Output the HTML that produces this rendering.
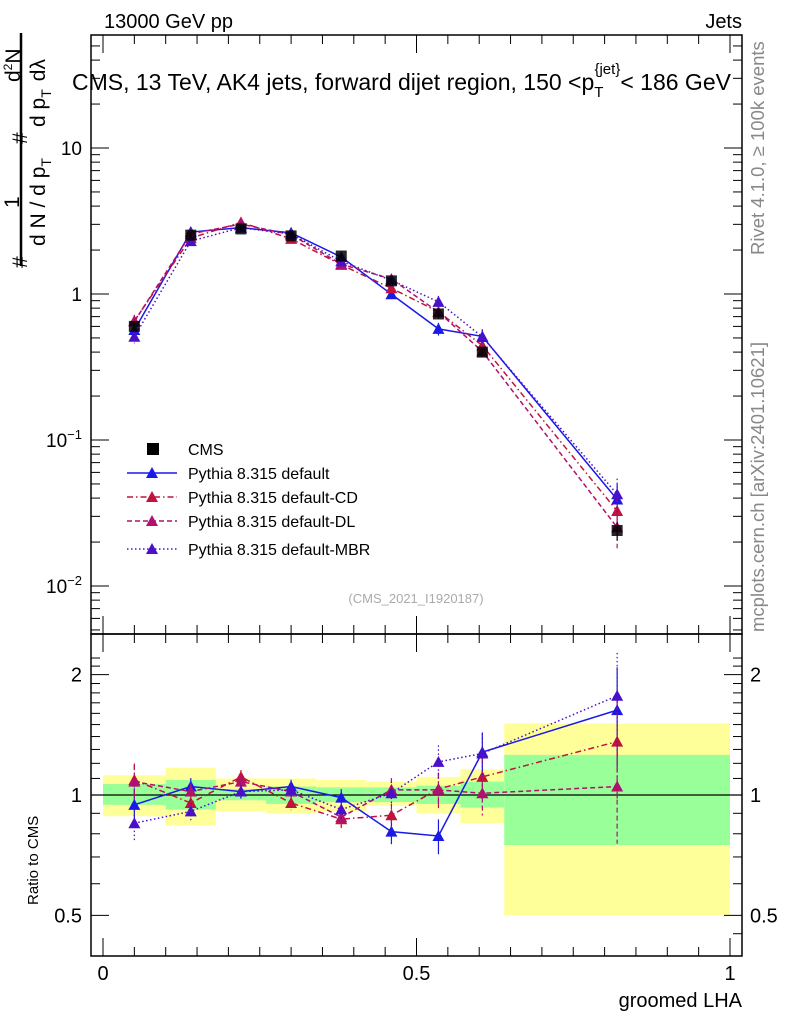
<!DOCTYPE html>
<html><head><meta charset="utf-8"><style>
body{margin:0;background:#fff;}
svg{display:block;font-family:"Liberation Sans",sans-serif;}
</style></head><body>
<svg id="chart" width="786" height="1024" viewBox="0 0 786 1024" xmlns="http://www.w3.org/2000/svg">
<g id="bands"></g>
<g id="marks"></g>
<g id="axes"></g>
<text x="104" y="28" font-size="20">13000 GeV pp</text>
<text x="742" y="28" font-size="20" text-anchor="end">Jets</text>
<text x="72" y="90" font-size="23">CMS, 13 TeV, AK4 jets, forward dijet region, 150 &lt;p<tspan font-size="15" dy="7">T</tspan><tspan font-size="15" dy="-23" dx="-9">{jet}</tspan><tspan dy="16">&lt; 186 GeV</tspan></text>
<text x="416" y="603" font-size="13" fill="#aaa" text-anchor="middle">(CMS_2021_I1920187)</text>
<g transform="translate(764,255) rotate(-90)"><text font-size="18.5" fill="#888">Rivet 4.1.0, ≥ 100k events</text></g>
<g transform="translate(764,632) rotate(-90)"><text font-size="18.5" fill="#888">mcplots.cern.ch [arXiv:2401.10621]</text></g>
<g>
<line x1="21" y1="33" x2="21" y2="266" stroke="#000" stroke-width="2.5"/>
<g transform="translate(27,268) rotate(-90)"><text font-size="21">#</text></g>
<g transform="translate(19,208) rotate(-90)"><text font-size="21">1</text></g>
<g transform="translate(27,144) rotate(-90)"><text font-size="21">#</text></g>
<g transform="translate(20,82) rotate(-90)"><text font-size="21">d<tspan font-size="12" dy="-8">2</tspan><tspan dy="8">N</tspan></text></g>
<g transform="translate(45,246) rotate(-90)"><text font-size="21">d N / d p<tspan font-size="14" dy="6">T</tspan></text></g>
<g transform="translate(45,127) rotate(-90)"><text font-size="21">d p<tspan font-size="14" dy="6">T</tspan><tspan dy="-6" dx="8">dλ</tspan></text></g>
</g>
<g transform="translate(38,905) rotate(-90)"><text font-size="15">Ratio to CMS</text></g>
<text x="742" y="1007" font-size="20" text-anchor="end">groomed LHA</text>
<g id="legend"></g>
</svg>
<script>
const xCenters=[0.05,0.14,0.22,0.30,0.38,0.46,0.535,0.605,0.82];
const binEdges=[0,0.1,0.18,0.26,0.34,0.42,0.5,0.57,0.64,1.0];
const cmsValues=[0.60,2.53,2.79,2.50,1.82,1.23,0.73,0.40,0.024];
const cmsErrRel=[0.06,0.04,0.03,0.03,0.03,0.04,0.05,0.06,0.15];
const ratioDefault=[0.945,1.05,1.02,1.05,0.985,0.81,0.79,1.28,1.63];
const ratioCD=[1.09,0.955,1.11,0.955,0.87,0.89,1.035,1.11,1.36];
const ratioDL=[1.08,1.02,1.08,1.02,0.88,1.03,1.03,1.01,1.05];
const ratioMBR=[0.85,0.91,1.02,1.03,0.92,1.01,1.21,1.27,1.77];
const modelErrRel=[0.1,0.05,0.04,0.04,0.05,0.07,0.1,0.12,0.28];
const yellowLo=[0.885,0.84,0.91,0.90,0.91,0.94,0.90,0.85,0.50];
const yellowHi=[1.12,1.17,1.10,1.10,1.09,1.08,1.11,1.16,1.51];
const greenLo=[0.945,0.92,0.97,0.95,0.96,0.96,0.95,0.93,0.75];
const greenHi=[1.065,1.09,1.035,1.05,1.045,1.045,1.055,1.08,1.26];
const mainTicks=["10","1","10^-1","10^-2"];

const NS="http://www.w3.org/2000/svg";
const L=91,R=742,T=35,MB=634,RB=956;
const X=v=>103+627*v;
const YM=v=>294-146*Math.log10(v);
const YR=v=>795-400*Math.log10(v);
function el(tag,attrs,parent){const e=document.createElementNS(NS,tag);for(const k in attrs)e.setAttribute(k,attrs[k]);parent.appendChild(e);return e;}
const bands=document.getElementById('bands'),marks=document.getElementById('marks'),axes=document.getElementById('axes'),legend=document.getElementById('legend');
for(let i=0;i<xCenters.length;i++){
  const y=el('rect',{x:X(binEdges[i]),y:YR(yellowHi[i]),width:X(binEdges[i+1])-X(binEdges[i]),height:YR(yellowLo[i])-YR(yellowHi[i]),fill:'#ffff99'},bands);
  
  
  const g=el('rect',{x:X(binEdges[i]),y:YR(greenHi[i]),width:X(binEdges[i+1])-X(binEdges[i]),height:YR(greenLo[i])-YR(greenHi[i]),fill:'#99ff99'},bands);
  
  
}
const refLine=el('line',{x1:L,x2:R,y1:YR(1),y2:YR(1),stroke:'#000','stroke-width':1.3},bands);


const series=[
 {name:'Pythia 8.315 default',r:ratioDefault,c:'#1a1ae6',d:'',key:'default'},
 {name:'Pythia 8.315 default-CD',r:ratioCD,c:'#c0143c',d:'6,3,1.5,3',key:'cd'},
 {name:'Pythia 8.315 default-DL',r:ratioDL,c:'#b0106e',d:'5,3',key:'dl'},
 {name:'Pythia 8.315 default-MBR',r:ratioMBR,c:'#4a10c8',d:'1.5,2.5',key:'mbr'}];
function tri(x,y,c,p,nm){const t=el('polygon',{points:`${x-6},${y+5} ${x+6},${y+5} ${x},${y-6}`,fill:c},p);}
series.forEach(s=>{
  const gm=el('g',{},marks);
  
  
  const mainPts=s.r.map((r,i)=>[X(xCenters[i]),YM(cmsValues[i]*r)]);
  const ratPts=s.r.map((r,i)=>[X(xCenters[i]),YR(r)]);
  el('polyline',{points:mainPts.map(p=>p.join(',')).join(' '),fill:'none',stroke:s.c,'stroke-width':1.5,'stroke-dasharray':s.d},gm);
  el('polyline',{points:ratPts.map(p=>p.join(',')).join(' '),fill:'none',stroke:s.c,'stroke-width':1.5,'stroke-dasharray':s.d},gm);
  s.r.forEach((r,i)=>{
    const v=cmsValues[i]*r,e=modelErrRel[i];
    const x=X(xCenters[i]);
    el('line',{x1:x,x2:x,y1:YM(v*(1+e)),y2:YM(v*(1-e)),stroke:s.c,'stroke-width':1.2,'stroke-dasharray':s.d},gm);
    el('line',{x1:x,x2:x,y1:YR(r*(1+e)),y2:YR(r*(1-e)),stroke:s.c,'stroke-width':1.2,'stroke-dasharray':s.d},gm);
    tri(x,YM(v),s.c,gm,'point-'+s.key);
    tri(x,YR(r),s.c,gm,'ratio-point-'+s.key);
  });
});
cmsValues.forEach((v,i)=>{
  const x=X(xCenters[i]);
  el('line',{x1:x,x2:x,y1:YM(v*(1+cmsErrRel[i])),y2:YM(v*(1-cmsErrRel[i])),stroke:'#000'},marks);
  const r=el('rect',{x:x-5.5,y:YM(v)-5.5,width:11,height:11,fill:'#000',opacity:0.85},marks);
  
  
});
el('rect',{x:L,y:T,width:R-L,height:MB-T,fill:'none',stroke:'#000','stroke-width':1.5},axes);
el('rect',{x:L,y:MB,width:R-L,height:RB-MB,fill:'none',stroke:'#000','stroke-width':1.5},axes);
for(let k=0;k<=20;k++){const v=k*0.05,x=X(v),len=(k%10==0)?18:9;
  [T,MB].forEach(y0=>{el('line',{x1:x,x2:x,y1:y0,y2:y0+len,stroke:'#000'},axes);});
  [MB,RB].forEach(y0=>{el('line',{x1:x,x2:x,y1:y0,y2:y0-len,stroke:'#000'},axes);});
}
['0','0.5','1'].forEach((t,i)=>{const tx=el('text',{x:X(i*0.5),y:980,'font-size':20,'text-anchor':'middle'},axes);tx.textContent=t;
  
  });
for(let d=-3;d<=1;d++){for(let m=1;m<10;m++){const v=m*Math.pow(10,d),y=YM(v);if(y<T||y>MB)continue;const len=m==1?18:9;
  el('line',{x1:L,x2:L+len,y1:y,y2:y,stroke:'#000'},axes);el('line',{x1:R,x2:R-len,y1:y,y2:y,stroke:'#000'},axes);}}
const tickVals=[10,1,0.1,0.01];
tickVals.forEach((v,i)=>{const t=el('text',{x:82,y:YM(v)+7,'font-size':19,'text-anchor':'end'},axes);
  const lab=mainTicks[i];
  if(lab.includes('^')){const [b,e]=lab.split('^');t.textContent=b;const ts=el('tspan',{'font-size':13,dy:-8},t);ts.textContent=e.replace('-','−');}
  else t.textContent=lab;
  
  });
for(let v=0.5;v<=2.3;v+=0.1){const y=YR(v);if(y<MB||y>RB)continue;const maj=Math.abs(v-0.5)<1e-6||Math.abs(v-1)<1e-6||Math.abs(v-2)<1e-6;const len=maj?18:9;
  el('line',{x1:L,x2:L+len,y1:y,y2:y,stroke:'#000'},axes);el('line',{x1:R,x2:R-len,y1:y,y2:y,stroke:'#000'},axes);}
el('line',{x1:R,x2:R-9,y1:YR(0.45),y2:YR(0.45),stroke:'#000'},axes);
[[2,'2'],[1,'1'],[0.5,'0.5']].forEach(([v,s])=>{
  const a=el('text',{x:82,y:YR(v)+7,'font-size':20,'text-anchor':'end'},axes);a.textContent=s;
  
  
  const b=el('text',{x:750,y:YR(v)+7,'font-size':20},axes);b.textContent=s;
  
  });
const ly=[449,473,497,521,549];
const le0=el('g',{},legend);


el('rect',{x:147,y:ly[0]-6,width:12,height:12,fill:'#000'},le0);
el('text',{x:188,y:ly[0]+6,'font-size':16},le0).textContent='CMS';
series.forEach((s,i)=>{const g=el('g',{},legend);
  
  
  const y=ly[i+1];
  el('line',{x1:127,x2:177,y1:y,y2:y,stroke:s.c,'stroke-width':1.5,'stroke-dasharray':s.d},g);
  tri(152,y,s.c,g,'legend-marker');
  el('text',{x:188,y:y+6,'font-size':16},g).textContent=s.name;});
</script>
</body></html>
